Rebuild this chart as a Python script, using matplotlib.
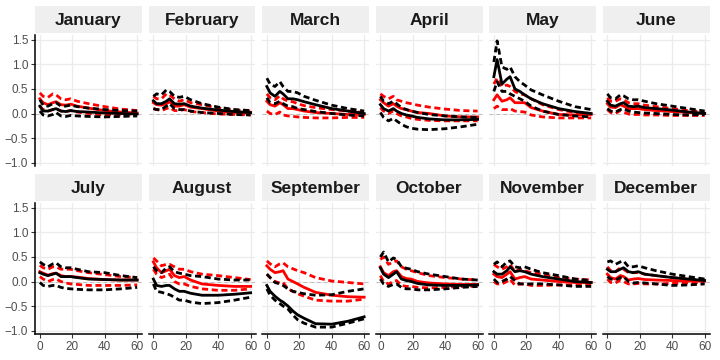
import matplotlib
matplotlib.use("Agg")
import matplotlib.pyplot as plt

plt.rcParams['font.family'] = ['Liberation Sans', 'DejaVu Sans']

months = ['January', 'February', 'March', 'April', 'May', 'June',
          'July', 'August', 'September', 'October', 'November', 'December']

horizon = [0, 2, 5, 8, 10, 13, 16, 19, 23, 30, 40, 50, 60]

# black response: point estimate and bands (one row per month)
black_mid = [
    [0.15, 0.05, 0.05, 0.08, 0.10, 0.05, 0.04, 0.06, 0.04, 0.03, 0.01, 0.00, -0.01],
    [0.26, 0.20, 0.20, 0.25, 0.30, 0.20, 0.19, 0.20, 0.15, 0.11, 0.07, 0.04, 0.02],
    [0.55, 0.42, 0.35, 0.45, 0.40, 0.30, 0.30, 0.28, 0.24, 0.18, 0.10, 0.05, 0.00],
    [0.18, 0.10, 0.05, 0.10, 0.05, 0.00, -0.03, -0.05, -0.08, -0.11, -0.13, -0.13, -0.12],
    [0.75, 1.10, 0.60, 0.70, 0.75, 0.50, 0.45, 0.38, 0.30, 0.20, 0.10, 0.04, 0.00],
    [0.25, 0.17, 0.15, 0.20, 0.22, 0.15, 0.14, 0.15, 0.12, 0.10, 0.07, 0.03, 0.00],
    [0.18, 0.15, 0.12, 0.15, 0.17, 0.10, 0.10, 0.10, 0.08, 0.05, 0.04, 0.03, 0.03],
    [0.05, -0.08, -0.10, -0.08, -0.08, -0.15, -0.20, -0.20, -0.24, -0.28, -0.28, -0.26, -0.23],
    [-0.08, -0.20, -0.30, -0.38, -0.42, -0.50, -0.60, -0.68, -0.75, -0.86, -0.87, -0.81, -0.72],
    [0.28, 0.15, 0.08, 0.15, 0.20, 0.05, 0.02, 0.00, -0.04, -0.07, -0.08, -0.08, -0.07],
    [0.20, 0.15, 0.15, 0.22, 0.30, 0.20, 0.22, 0.20, 0.15, 0.10, 0.05, 0.00, -0.02],
    [0.25, 0.20, 0.20, 0.25, 0.28, 0.20, 0.18, 0.20, 0.15, 0.12, 0.08, 0.05, 0.02],
]
black_lo = [
    [0.05, -0.03, -0.05, -0.02, 0.02, -0.05, -0.06, -0.04, -0.05, -0.06, -0.07, -0.06, -0.05],
    [0.10, 0.08, 0.08, 0.15, 0.20, 0.10, 0.08, 0.08, 0.05, 0.02, 0.00, -0.02, -0.03],
    [0.32, 0.22, 0.20, 0.25, 0.20, 0.15, 0.14, 0.10, 0.08, 0.04, 0.00, -0.03, -0.05],
    [0.02, -0.08, -0.15, -0.10, -0.15, -0.22, -0.27, -0.30, -0.32, -0.33, -0.31, -0.27, -0.22],
    [0.45, 0.65, 0.45, 0.45, 0.40, 0.35, 0.30, 0.25, 0.15, 0.05, -0.02, -0.05, -0.07],
    [0.10, 0.05, 0.03, 0.08, 0.10, 0.05, 0.03, 0.02, 0.01, 0.00, -0.02, -0.03, -0.02],
    [-0.02, -0.08, -0.10, -0.08, -0.08, -0.12, -0.14, -0.15, -0.16, -0.17, -0.17, -0.15, -0.12],
    [-0.05, -0.20, -0.22, -0.25, -0.27, -0.32, -0.38, -0.38, -0.42, -0.45, -0.43, -0.38, -0.32],
    [-0.15, -0.28, -0.38, -0.45, -0.50, -0.56, -0.68, -0.78, -0.85, -0.93, -0.93, -0.85, -0.76],
    [0.05, -0.05, -0.10, -0.06, -0.05, -0.12, -0.15, -0.15, -0.17, -0.17, -0.15, -0.12, -0.10],
    [0.05, -0.02, 0.00, 0.05, 0.10, 0.02, -0.05, -0.05, -0.05, -0.05, -0.07, -0.10, -0.10],
    [0.10, 0.05, 0.03, 0.08, 0.10, 0.00, -0.03, -0.02, -0.03, -0.05, -0.08, -0.07, -0.05],
]
black_hi = [
    [0.28, 0.17, 0.15, 0.20, 0.22, 0.15, 0.15, 0.17, 0.14, 0.11, 0.08, 0.06, 0.05],
    [0.35, 0.40, 0.38, 0.48, 0.45, 0.35, 0.33, 0.35, 0.28, 0.20, 0.13, 0.08, 0.06],
    [0.72, 0.60, 0.55, 0.65, 0.55, 0.45, 0.45, 0.42, 0.35, 0.27, 0.17, 0.10, 0.05],
    [0.35, 0.25, 0.20, 0.25, 0.20, 0.12, 0.08, 0.05, 0.02, -0.02, -0.05, -0.07, -0.08],
    [1.05, 1.48, 0.95, 0.90, 0.95, 0.75, 0.65, 0.58, 0.48, 0.38, 0.25, 0.14, 0.08],
    [0.40, 0.32, 0.30, 0.38, 0.36, 0.30, 0.28, 0.28, 0.25, 0.20, 0.15, 0.10, 0.05],
    [0.40, 0.35, 0.30, 0.36, 0.38, 0.30, 0.28, 0.28, 0.25, 0.20, 0.18, 0.12, 0.08],
    [0.30, 0.22, 0.18, 0.28, 0.30, 0.20, 0.17, 0.15, 0.12, 0.10, 0.05, 0.03, 0.03],
    [0.15, 0.08, -0.02, -0.05, -0.08, -0.15, -0.20, -0.22, -0.25, -0.28, -0.27, -0.20, -0.15],
    [0.50, 0.60, 0.40, 0.48, 0.45, 0.30, 0.27, 0.25, 0.20, 0.15, 0.10, 0.05, 0.03],
    [0.35, 0.40, 0.30, 0.40, 0.42, 0.30, 0.28, 0.30, 0.25, 0.18, 0.12, 0.05, 0.02],
    [0.40, 0.42, 0.35, 0.40, 0.42, 0.30, 0.30, 0.32, 0.28, 0.22, 0.15, 0.10, 0.05],
]

# red response: point estimate and bands
red_mid = [
    [0.30, 0.22, 0.18, 0.22, 0.24, 0.18, 0.17, 0.19, 0.15, 0.11, 0.06, 0.03, 0.01],
    [0.22, 0.18, 0.17, 0.20, 0.24, 0.15, 0.15, 0.18, 0.13, 0.10, 0.05, 0.02, 0.01],
    [0.25, 0.18, 0.15, 0.22, 0.18, 0.10, 0.10, 0.08, 0.05, 0.02, 0.00, -0.02, -0.02],
    [0.28, 0.22, 0.15, 0.20, 0.15, 0.10, 0.08, 0.05, 0.02, 0.00, -0.05, -0.07, -0.07],
    [0.28, 0.38, 0.25, 0.28, 0.32, 0.22, 0.22, 0.22, 0.12, 0.05, -0.02, -0.03, -0.02],
    [0.20, 0.13, 0.12, 0.18, 0.15, 0.10, 0.10, 0.10, 0.08, 0.06, 0.04, 0.02, 0.00],
    [0.20, 0.17, 0.13, 0.16, 0.17, 0.12, 0.10, 0.10, 0.09, 0.06, 0.04, 0.03, 0.03],
    [0.40, 0.28, 0.18, 0.22, 0.25, 0.12, 0.08, 0.10, 0.03, -0.05, -0.08, -0.10, -0.10],
    [0.32, 0.25, 0.18, 0.20, 0.22, 0.05, 0.00, -0.05, -0.12, -0.22, -0.28, -0.31, -0.32],
    [0.30, 0.18, 0.12, 0.20, 0.22, 0.10, 0.06, 0.05, 0.00, -0.03, -0.05, -0.06, -0.06],
    [0.15, 0.10, 0.08, 0.15, 0.20, 0.05, 0.08, 0.10, 0.05, 0.03, 0.00, -0.02, -0.02],
    [0.15, 0.08, 0.05, 0.12, 0.10, 0.03, 0.05, 0.06, 0.04, 0.03, 0.02, 0.01, 0.01],
]
red_lo = [
    [0.15, 0.08, 0.05, 0.08, 0.10, 0.05, 0.04, 0.06, 0.03, 0.00, -0.03, -0.03, -0.03],
    [0.10, 0.08, 0.06, 0.10, 0.12, 0.06, 0.06, 0.08, 0.04, 0.02, -0.01, -0.02, -0.03],
    [0.05, 0.00, -0.02, 0.03, -0.03, -0.05, -0.06, -0.07, -0.08, -0.09, -0.09, -0.08, -0.08],
    [0.12, 0.05, 0.00, 0.05, 0.00, -0.05, -0.07, -0.10, -0.12, -0.14, -0.15, -0.15, -0.15],
    [0.10, 0.15, 0.08, 0.08, 0.10, 0.05, 0.04, 0.03, -0.03, -0.07, -0.09, -0.09, -0.09],
    [0.08, 0.02, 0.00, 0.06, 0.03, -0.01, -0.02, -0.02, -0.03, -0.03, -0.04, -0.04, -0.04],
    [0.10, 0.05, 0.00, 0.04, 0.05, 0.00, -0.03, -0.05, -0.06, -0.08, -0.08, -0.08, -0.07],
    [0.25, 0.15, 0.08, 0.12, 0.15, 0.00, -0.05, -0.05, -0.10, -0.15, -0.18, -0.18, -0.15],
    [0.15, 0.08, 0.00, -0.03, -0.02, -0.15, -0.20, -0.25, -0.30, -0.38, -0.40, -0.40, -0.36],
    [0.12, 0.00, -0.05, 0.00, 0.02, -0.08, -0.10, -0.10, -0.12, -0.13, -0.12, -0.10, -0.10],
    [0.00, -0.05, -0.05, 0.00, 0.05, -0.08, -0.05, -0.05, -0.08, -0.08, -0.07, -0.07, -0.06],
    [0.05, -0.02, -0.03, 0.03, 0.00, -0.05, -0.05, -0.04, -0.05, -0.05, -0.04, -0.03, -0.02],
]
red_hi = [
    [0.42, 0.35, 0.33, 0.40, 0.38, 0.30, 0.28, 0.30, 0.25, 0.20, 0.14, 0.09, 0.06],
    [0.35, 0.30, 0.30, 0.40, 0.38, 0.30, 0.25, 0.28, 0.22, 0.18, 0.11, 0.07, 0.05],
    [0.40, 0.32, 0.28, 0.36, 0.30, 0.25, 0.24, 0.20, 0.16, 0.12, 0.08, 0.05, 0.02],
    [0.40, 0.35, 0.30, 0.35, 0.28, 0.25, 0.22, 0.20, 0.17, 0.13, 0.09, 0.06, 0.05],
    [0.60, 0.72, 0.55, 0.58, 0.55, 0.45, 0.40, 0.38, 0.30, 0.18, 0.08, 0.02, 0.00],
    [0.32, 0.25, 0.25, 0.30, 0.28, 0.22, 0.20, 0.20, 0.17, 0.14, 0.10, 0.06, 0.03],
    [0.33, 0.28, 0.25, 0.30, 0.30, 0.25, 0.25, 0.25, 0.22, 0.18, 0.14, 0.10, 0.08],
    [0.48, 0.42, 0.32, 0.35, 0.35, 0.30, 0.25, 0.25, 0.20, 0.15, 0.12, 0.08, 0.04],
    [0.42, 0.36, 0.30, 0.36, 0.38, 0.30, 0.26, 0.22, 0.18, 0.08, 0.01, -0.02, -0.05],
    [0.45, 0.50, 0.35, 0.40, 0.42, 0.30, 0.25, 0.22, 0.18, 0.12, 0.08, 0.05, 0.03],
    [0.35, 0.30, 0.25, 0.30, 0.35, 0.20, 0.25, 0.22, 0.18, 0.15, 0.08, 0.05, 0.03],
    [0.30, 0.22, 0.20, 0.28, 0.25, 0.18, 0.18, 0.18, 0.15, 0.12, 0.08, 0.05, 0.03],
]

x_ticks = [0, 20, 40, 60]
y_ticks = [-1.0, -0.5, 0.0, 0.5, 1.0, 1.5]

W, H = 720, 360
fig = plt.figure(figsize=(7.2, 3.6), dpi=100)

panel_w, panel_h = 107, 131
lefts = [35, 148.5, 262, 375.5, 489, 602.5]
strip_tops = [6, 174]
strip_h = 27

lw = 2.0
dash = (2.2, 1.3)

for i, month in enumerate(months):
    row, col = divmod(i, 6)
    left = lefts[col]
    s_top = strip_tops[row]
    p_top = s_top + strip_h + 2

    # facet strip
    sax = fig.add_axes([left / W, 1 - (s_top + strip_h) / H, panel_w / W, strip_h / H])
    sax.set_facecolor('#EFEFEF')
    sax.set_xticks([])
    sax.set_yticks([])
    for sp in sax.spines.values():
        sp.set_visible(False)
    sax.text(0.5, 0.45, month, ha='center', va='center', fontsize=12.5,
             fontweight='bold', color='#1A1A1A', transform=sax.transAxes)

    ax = fig.add_axes([left / W, 1 - (p_top + panel_h) / H, panel_w / W, panel_h / H])
    ax.set_facecolor('white')
    ax.grid(True, color='#EBEBEB', linewidth=0.9)
    ax.set_axisbelow(True)
    ax.axhline(0, color='#BEBEBE', linewidth=0.7, linestyle=(0, (4, 3)), zorder=1)

    ax.plot(horizon, red_lo[i], color='red', lw=lw, dashes=dash, zorder=2)
    ax.plot(horizon, red_hi[i], color='red', lw=lw, dashes=dash, zorder=2)
    ax.plot(horizon, red_mid[i], color='red', lw=lw, zorder=3)
    ax.plot(horizon, black_lo[i], color='black', lw=lw, dashes=dash, zorder=4)
    ax.plot(horizon, black_hi[i], color='black', lw=lw, dashes=dash, zorder=4)
    ax.plot(horizon, black_mid[i], color='black', lw=lw, zorder=5)

    ax.set_xlim(-3, 63)
    ax.set_ylim(-1.07, 1.6)
    ax.set_xticks(x_ticks)
    ax.set_yticks(y_ticks)

    for sp in ax.spines.values():
        sp.set_visible(False)

    if col == 0:
        ax.spines['left'].set_visible(True)
        ax.spines['left'].set_linewidth(1.1)
        ax.tick_params(axis='y', length=3, width=0.8, color='#333333',
                       labelsize=8.5, labelcolor='#4D4D4D', pad=2)
    else:
        ax.tick_params(axis='y', length=0, labelleft=False)

    if row == 1:
        ax.spines['bottom'].set_visible(True)
        ax.spines['bottom'].set_linewidth(1.1)
        ax.tick_params(axis='x', length=3, width=0.8, color='#333333',
                       labelsize=8.5, labelcolor='#4D4D4D', pad=2)
    else:
        ax.tick_params(axis='x', length=0, labelbottom=False)

fig.savefig('out.png', dpi=100)
